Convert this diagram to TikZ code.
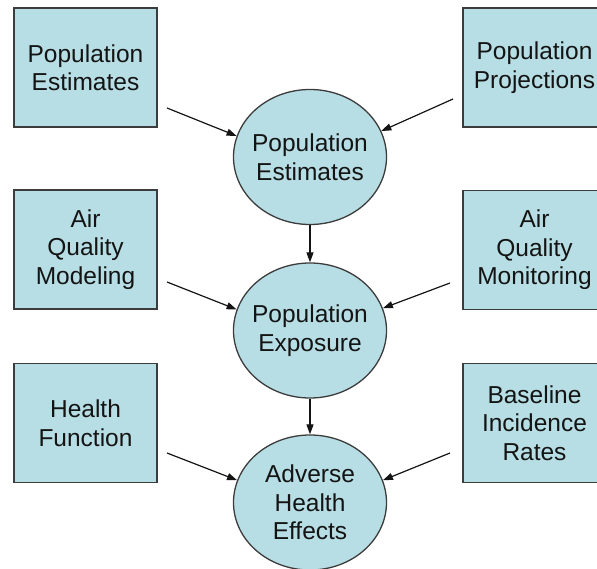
\documentclass[tikz,border=0pt]{standalone}
\usepackage{fontspec}
\setmainfont{Liberation Sans}
\usetikzlibrary{shapes.geometric,arrows.meta}
\definecolor{boxfill}{RGB}{183,222,228}
\definecolor{edge}{RGB}{60,60,60}
\definecolor{ink}{RGB}{20,20,20}
\tikzset{
  every node/.style={text=ink, font=\fontsize{24.5pt}{28.5pt}\selectfont, align=center, inner sep=0pt},
  srcbox/.style={draw=edge, line width=1.3pt, fill=boxfill, rectangle, minimum width=143pt, minimum height=119pt},
  stage/.style={draw=edge, line width=1.3pt, fill=boxfill, ellipse, minimum width=153pt, minimum height=135pt},
  arr/.style={draw=ink, line width=1.2pt, -{Triangle[length=10pt,width=7pt]}}
}
\begin{document}
\begin{tikzpicture}[x=1pt,y=-1pt]
\useasboundingbox (0,0) rectangle (597,569);
\clip (0,0) rectangle (597,569);
% source boxes
\node[srcbox] (b1) at (85.5,67.5) {Population\\Estimates};
\node[srcbox] (b2) at (85.5,249.5) {Air\\Quality\\Modeling};
\node[srcbox] (b3) at (85.5,423) {Health\\Function};
\node[srcbox] (c1) at (534.5,67.5) {Population\\Projections};
\node[srcbox] (c2) at (534.5,250) {Air\\Quality\\Monitoring};
\node[srcbox] (c3) at (534.5,423) {Baseline\\Incidence\\Rates};
% stages
\node[stage, label=center:{Population\\Estimates}] (e1) at (310,157) {};
\node[stage, label=center:{Population\\Exposure}] (e2) at (310,330.5) {};
\node[stage, label=center:{Adverse\\Health\\Effects}] (e3) at (310,502.5) {};
% arrow start points
\coordinate (l1) at (167,108);
\coordinate (r1) at (453,99);
\coordinate (l2) at (167,282);
\coordinate (r2) at (450,283);
\coordinate (l3) at (167,453);
\coordinate (r3) at (450,453);
% connectors
\draw[arr] (l1) -- (e1.164);
\draw[arr] (r1) -- (e1.20);
\draw[arr] (l2) -- (e2.164);
\draw[arr] (r2) -- (e2.17);
\draw[arr] (l3) -- (e3.163);
\draw[arr] (r3) -- (e3.17);
\draw[arr] (e1.south) -- (e2.north);
\draw[arr] (e2.south) -- (e3.north);
\end{tikzpicture}
\end{document}
